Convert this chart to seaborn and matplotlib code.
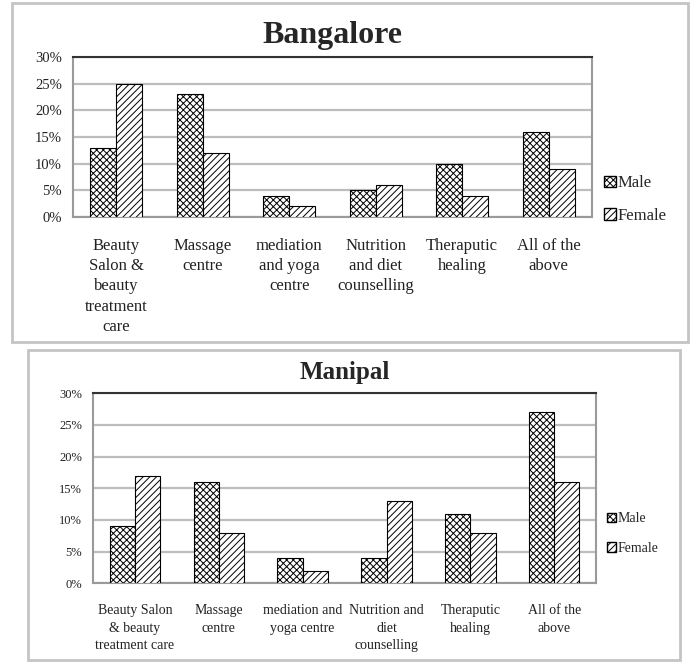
import matplotlib
matplotlib.use("Agg")
from matplotlib import pyplot as plt
from matplotlib.patches import Rectangle, Patch
from matplotlib.ticker import PercentFormatter
import pandas as pd
import seaborn as sns


SERVICES = ["Beauty Salon", "Massage", "Mediation", "Nutrition", "Theraputic", "All"]
GENDERS = ["Male", "Female"]

BANGALORE_LABELS = ["Beauty\nSalon &\nbeauty\ntreatment\ncare", "Massage\ncentre",
                    "mediation\nand yoga\ncentre", "Nutrition\nand diet\ncounselling",
                    "Theraputic\nhealing", "All of the\nabove"]
BANGALORE_MALE = [13, 23, 4, 5, 10, 16]
BANGALORE_FEMALE = [25, 12, 2, 6, 4, 9]

MANIPAL_LABELS = ["Beauty Salon\n& beauty\ntreatment care", "Massage\ncentre",
                  "mediation and\nyoga centre", "Nutrition and\ndiet\ncounselling",
                  "Theraputic\nhealing", "All of the\nabove"]
MANIPAL_MALE = [9, 16, 4, 4, 11, 27]
MANIPAL_FEMALE = [17, 8, 2, 13, 8, 16]

HATCHES = {"Male": "xxxxx", "Female": "/////"}


def make_frame(male, female):
    rows = []
    for i, s in enumerate(SERVICES):
        rows.append({"service": s, "gender": "Male", "pct": male[i]})
        rows.append({"service": s, "gender": "Female", "pct": female[i]})
    return pd.DataFrame(rows)


def draw_panel(fig, rect, title, labels, male, female, title_size, tick_size,
               xlab_size, xlab_spacing, xlab_pad, leg_size, leg_pos, leg_spacing):
    ax = fig.add_axes(rect)
    data = make_frame(male, female)
    sns.barplot(data=data, x="service", y="pct", hue="gender", order=SERVICES,
                hue_order=GENDERS, palette=["white", "white"], width=0.6,
                edgecolor="black", linewidth=0.8, legend=False, ax=ax, zorder=3)
    for container, g in zip(ax.containers, GENDERS):
        for bar in container:
            bar.set_hatch(HATCHES[g])

    ax.set_ylim(0, 30)
    ax.set_yticks(range(0, 31, 5))
    ax.yaxis.set_major_formatter(PercentFormatter(decimals=0))
    ax.set_xticks(range(len(labels)))
    ax.set_xticklabels(labels, fontsize=xlab_size, linespacing=xlab_spacing, color="#222222")
    ax.tick_params(axis="y", labelsize=tick_size, length=0, pad=8, colors="#222222")
    ax.tick_params(axis="x", length=0, pad=xlab_pad)
    ax.set_xlabel("")
    ax.set_ylabel("")
    ax.grid(axis="y", color="#bdbdbd", linewidth=1.6, zorder=0)
    ax.set_axisbelow(True)
    for side in ["left", "right", "bottom"]:
        ax.spines[side].set_color("#9a9a9a")
        ax.spines[side].set_linewidth(1.5)
    ax.spines["top"].set_color("#333333")
    ax.spines["top"].set_linewidth(1.5)

    ax.set_title(title, fontsize=title_size, fontweight="bold", pad=10)

    handles = [Patch(facecolor="white", edgecolor="black", hatch=HATCHES[g], label=g) for g in GENDERS]
    ax.legend(handles=handles, loc="center left", bbox_to_anchor=leg_pos, frameon=False,
              fontsize=leg_size, handlelength=0.7, handleheight=0.7, handletextpad=0.1,
              labelspacing=leg_spacing, borderaxespad=0)
    return ax


def main():
    sns.set_theme(style="white")
    plt.rcParams["font.family"] = ["Liberation Serif", "DejaVu Serif"]
    plt.rcParams["hatch.linewidth"] = 0.7

    fig = plt.figure(figsize=(6.94, 6.62), dpi=100)

    # panel boxes
    fig.patches.append(Rectangle((12 / 694, 1 - 342 / 662), 676 / 694, 339 / 662,
                                 transform=fig.transFigure, fill=False,
                                 edgecolor="#c4c4c4", linewidth=2))
    fig.patches.append(Rectangle((28 / 694, 1 - 660 / 662), 652 / 694, 310 / 662,
                                 transform=fig.transFigure, fill=False,
                                 edgecolor="#c4c4c4", linewidth=2))

    draw_panel(fig, [0.105, 0.672, 0.748, 0.242], "Bangalore", BANGALORE_LABELS,
               BANGALORE_MALE, BANGALORE_FEMALE, 23, 10.5, 12, 1.35, 15, 12, (1.01, 0.11), 1.0)
    draw_panel(fig, [0.134, 0.119, 0.725, 0.287], "Manipal", MANIPAL_LABELS,
               MANIPAL_MALE, MANIPAL_FEMALE, 18, 9, 10, 1.45, 15, 10, (1.01, 0.26), 1.2)

    fig.savefig("out.png", dpi=100)


if __name__ == "__main__":
    main()
